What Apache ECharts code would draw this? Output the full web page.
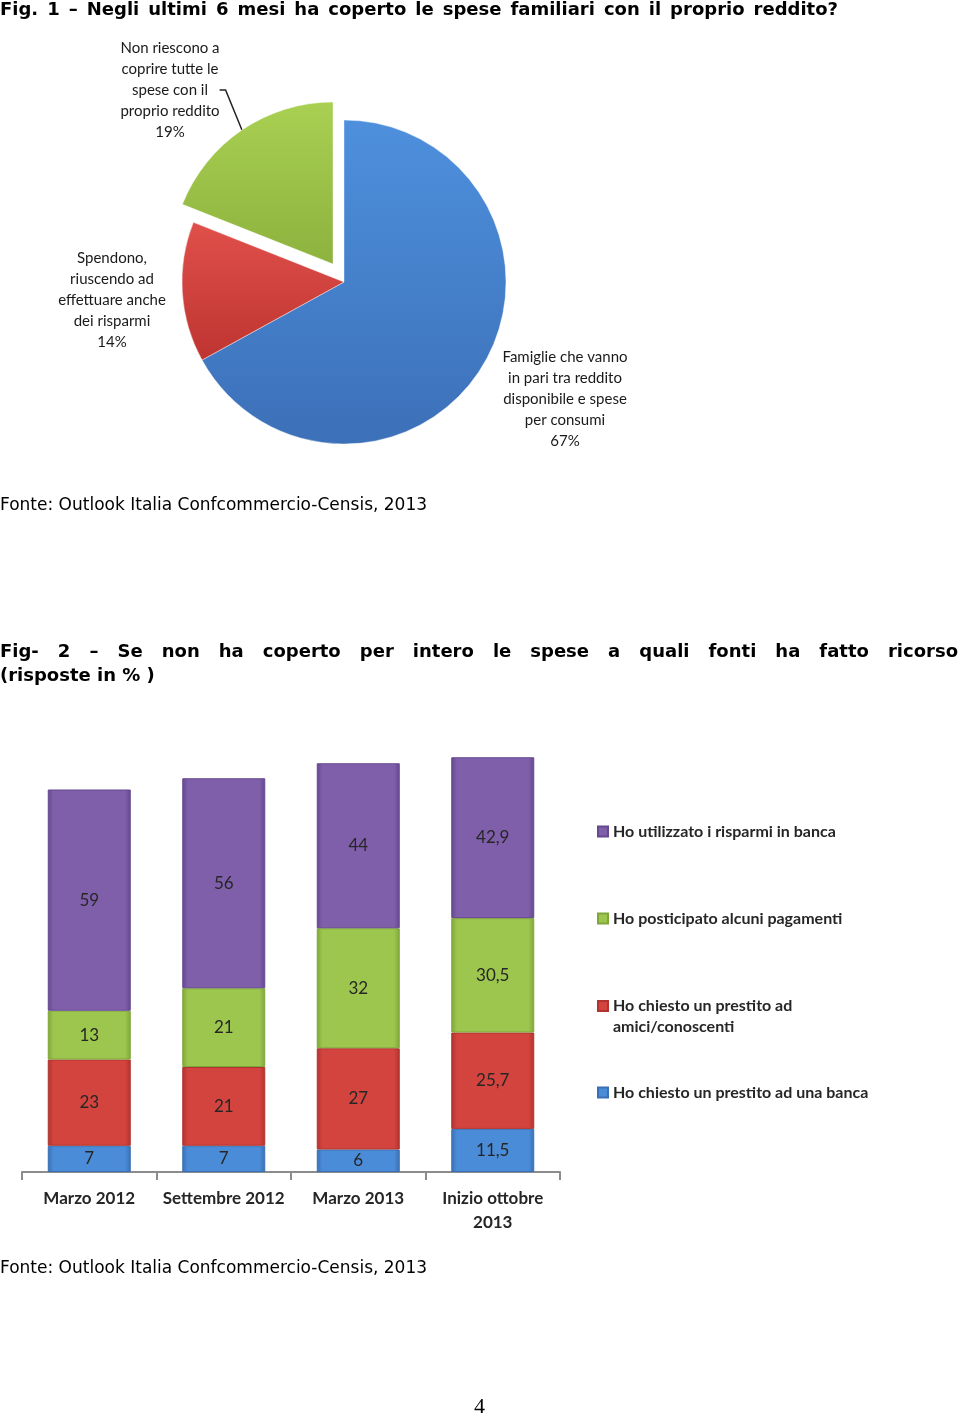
<!DOCTYPE html>
<html>
<head>
<meta charset="utf-8">
<script src="https://cdn.jsdelivr.net/npm/echarts@6/dist/echarts.min.js"></script>
<style>
  html, body { margin: 0; padding: 0; background: #fff; }
  #chart { width: 960px; height: 1420px; }
</style>
</head>
<body>
<div id="chart"></div>
<script>
// Fig. 1 - pie
const pieNames = [
  'Famiglie che vanno\nin pari tra reddito\ndisponibile e spese\nper consumi',
  'Spendono,\nriuscendo ad\neffettuare anche\ndei risparmi',
  'Non riescono a\ncoprire tutte le\nspese con il\nproprio reddito'
];
const pieValues = [67, 14, 19];

// Fig. 2 - stacked bars
const periods = ['Marzo 2012', 'Settembre 2012', 'Marzo 2013', 'Inizio ottobre\n2013'];
const seriesNames = [
  'Ho chiesto un prestito ad una banca',
  'Ho chiesto un prestito ad\namici/conoscenti',
  'Ho posticipato alcuni pagamenti',
  'Ho utilizzato i risparmi in banca'
];
const prestitoBanca = [7, 7, 6, 11.5];
const prestitoAmici = [23, 21, 27, 25.7];
const posticipato = [13, 21, 32, 30.5];
const risparmi = [59, 56, 44, 42.9];

const fonte = 'Fonte: Outlook Italia Confcommercio-Censis, 2013';
const title1 = 'Fig. 1 \u2013 Negli ultimi 6 mesi ha coperto le spese familiari con il proprio reddito?';
const title2 = 'Fig- 2 \u2013 Se non ha coperto per intero le spese a quali fonti ha fatto ricorso';
const title2b = '(risposte in % )';

const pieColors = [['#4E90DD', '#3C70B8'], ['#E0504B', '#BE3430'], ['#A9D052', '#8DB23E']];
const barColors = ['#4B8CD8', '#D4443F', '#9DC64E', '#7F5FAA'];
const barDark = ['#3A70B3', '#B0332F', '#7FA63A', '#654890'];
const pieLabelPos = [[565, 399], [112, 300], [170, 90]];
const pieCenter = [344, 282];
const pieExploded = [333, 264]; // green slice pulled out

const titleFont = 'bold 18px "DejaVu Sans"';
const fonteFont = '17px "DejaVu Sans"';
const measureCtx = document.createElement('canvas').getContext('2d');
function textWidth(str, font) {
  measureCtx.font = font;
  return measureCtx.measureText(str).width;
}

// spread words over a given line width
function justifiedWords(str, y, width, font) {
  const words = str.split(' ');
  const widths = words.map(w => textWidth(w, font));
  const total = widths.reduce((a, b) => a + b, 0);
  const gap = (width - total) / (words.length - 1);
  let x = 0;
  return words.map((w, i) => {
    const el = {
      type: 'text', left: x, top: y,
      style: { text: w, font: font, fill: '#000' }
    };
    x += widths[i] + gap;
    return el;
  });
}

function bevel(c, dark) {
  return new echarts.graphic.LinearGradient(0, 0, 1, 0, [
    { offset: 0, color: dark },
    { offset: 0.07, color: c },
    { offset: 0.93, color: c },
    { offset: 1, color: dark }
  ]);
}

function pieFill(i) {
  return new echarts.graphic.LinearGradient(0, 0, 0, 1, [
    { offset: 0, color: pieColors[i][0] },
    { offset: 1, color: pieColors[i][1] }
  ]);
}

let myChart = echarts.init(document.getElementById('chart'));

const barData = [prestitoBanca, prestitoAmici, posticipato, risparmi];
const barSeries = barData.map((vals, i) => ({
  name: seriesNames[i],
  type: 'bar',
  stack: 'tot',
  barWidth: 83,
  data: vals,
  itemStyle: { color: bevel(barColors[i], barDark[i]), borderColor: barDark[i], borderWidth: 1 },
  emphasis: { disabled: true },
  label: {
    show: true,
    position: 'inside',
    fontFamily: 'Lato',
    fontSize: 17,
    color: '#262626',
    formatter: p => String(p.value).replace('.', ',')
  }
}));

// one legend per entry, stacked top to bottom
const legendTops = [1082, 995, 908, 821];
const legendIcons = ['rect', 'path://M0,0L10,0L10,10L0,10Z M10,30', 'rect', 'rect'];
const legends = seriesNames.map((n, i) => ({
  data: [{ name: n, icon: legendIcons[i] }],
  left: 597,
  top: legendTops[i],
  padding: 0,
  itemWidth: 10,
  itemHeight: i === 1 ? 30 : 10,
  itemGap: 5,
  selectedMode: false,
  textStyle: { fontFamily: 'Lato', fontWeight: 'bold', fontSize: 16, color: '#262626', lineHeight: 21 }
}));

// pie drawn twice: the base with blue/red, a shifted copy for the green slice
function pieSeries(center, shown) {
  return {
    type: 'pie',
    center: center,
    radius: 162,
    startAngle: 90,
    silent: true,
    emphasis: { disabled: true },
    data: pieValues.map((v, i) => {
      const on = shown.indexOf(i) >= 0;
      return {
        name: pieNames[i],
        value: v,
        itemStyle: on
          ? { color: pieFill(i), borderColor: 'rgba(255,255,255,0.4)', borderWidth: 1 }
          : { color: 'rgba(0,0,0,0)', borderWidth: 0 },
        label: { show: on },
        labelLine: { show: on && i === 2 }
      };
    }),
    label: {
      position: 'outside',
      fontFamily: 'Lato',
      fontSize: 15,
      lineHeight: 21,
      color: '#1a1a1a',
      align: 'center',
      formatter: p => p.name + '\n' + p.value + '%'
    },
    labelLine: { length: 6, length2: 6, lineStyle: { color: '#222', width: 1.5 } },
    labelLayout: p => ({
      x: pieLabelPos[p.dataIndex][0],
      y: pieLabelPos[p.dataIndex][1],
      align: 'center',
      verticalAlign: 'middle'
    })
  };
}

const option = {
  animation: false,
  legend: legends,
  grid: [{ left: 22, right: 400, top: 722, bottom: 248 }],
  xAxis: [{
    type: 'category',
    data: periods,
    axisLine: { lineStyle: { color: '#8c8c8c', width: 2 } },
    axisTick: { show: true, length: 8, lineStyle: { color: '#8c8c8c', width: 2 } },
    axisLabel: {
      interval: 0, margin: 15,
      fontFamily: 'Lato', fontWeight: 'bold', fontSize: 17, color: '#262626', lineHeight: 24
    }
  }],
  yAxis: [{ type: 'value', min: 0, max: 120, show: false }],
  graphic: [
    ...justifiedWords(title1, 1, 838, titleFont),
    { type: 'text', left: 0, top: 497, style: { text: fonte, font: fonteFont, fill: '#000' } },
    ...justifiedWords(title2, 643, 958, titleFont),
    { type: 'text', left: 0, top: 667, style: { text: title2b, font: titleFont, fill: '#000' } },
    { type: 'text', left: 0, top: 1260, style: { text: fonte, font: fonteFont, fill: '#000' } },
    { type: 'text', left: 474, top: 1396, style: { text: '4', font: '22px "Liberation Serif"', fill: '#000' } }
  ],
  series: [
    pieSeries(pieCenter, [0, 1]),
    pieSeries(pieExploded, [2]),
    ...barSeries
  ]
};

myChart.setOption(option, true);
</script>
</body>
</html>
